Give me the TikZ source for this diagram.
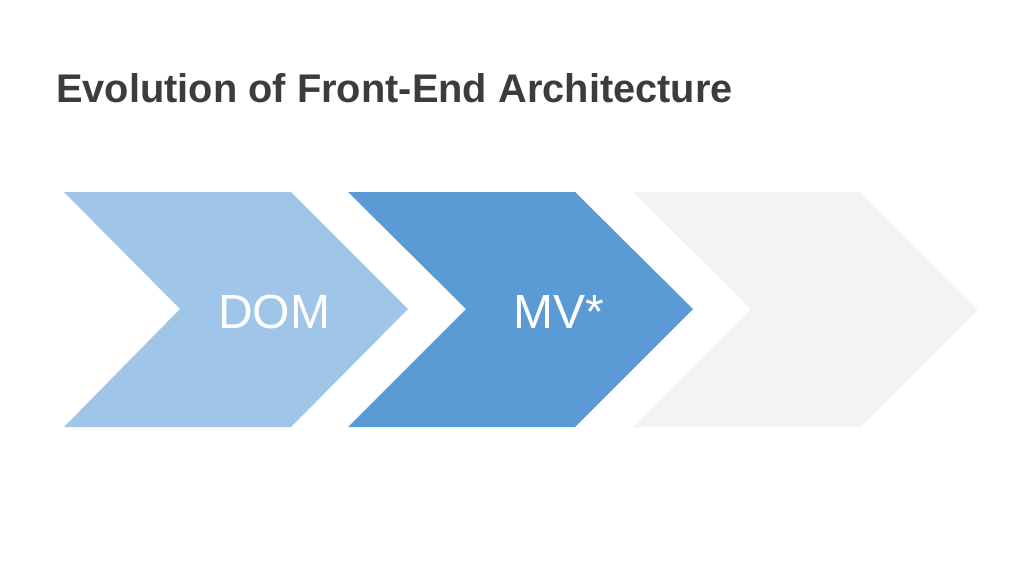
\documentclass[tikz,border=0pt]{standalone}
\usepackage{fontspec}
\setmainfont{Liberation Sans}
\definecolor{titlegray}{HTML}{3C3C3C}
\definecolor{lightblue}{HTML}{9FC5E8}
\definecolor{midblue}{HTML}{5B9BD5}
\definecolor{palegray}{HTML}{F3F3F3}
\begin{document}
\begin{tikzpicture}[x=1pt,y=-1pt,
  chev/.style={fill=#1,draw=none},
  lbl/.style={text=white,font=\fontsize{48}{50}\selectfont,inner sep=0pt,anchor=base}]
\useasboundingbox (0,0) rectangle (1024,576);
\fill[white] (0,0) rectangle (1024,576);
\node[anchor=base west,inner sep=0pt,text=titlegray,font=\fontsize{40}{44}\selectfont\bfseries] (title) at (56,102) {\addfontfeature{FakeStretch=0.995}Evolution of Front-End Architecture};
\fill[chev=lightblue] (64,192) -- (291,192) -- (408,309) -- (291,427) -- (64,427) -- (180,309) -- cycle;
\fill[chev=midblue] (348,192) -- (575,192) -- (693,309) -- (575,427) -- (348,427) -- (466,309) -- cycle;
\fill[chev=palegray] (633,192) -- (860,192) -- (978,309) -- (860,427) -- (633,427) -- (751,309) -- cycle;
\node[lbl] (dom) at (274,328) {DOM};
\node[lbl] (mv) at (559,328) {MV*};
\end{tikzpicture}
\end{document}
